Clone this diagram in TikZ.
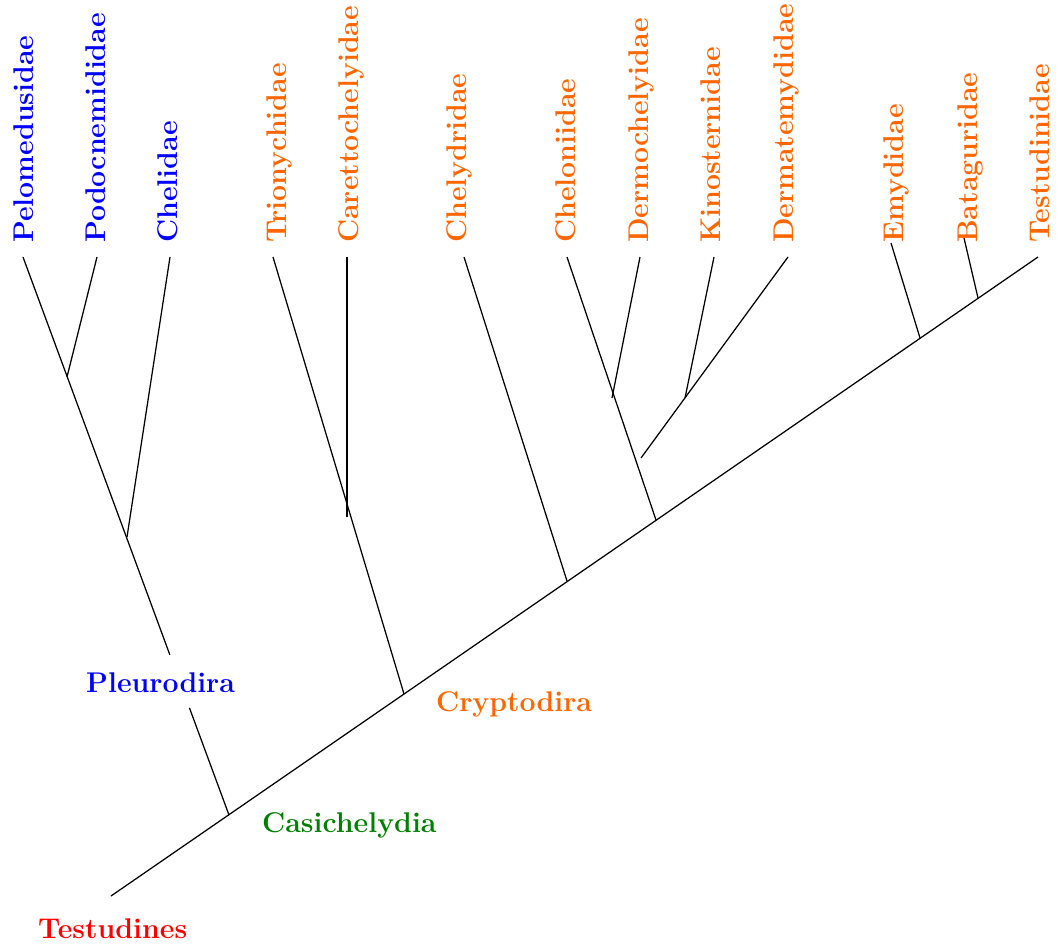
\documentclass[tikz,border=0pt]{standalone}
\usepackage{tikz}
\usetikzlibrary{calc}
\definecolor{pleurocol}{RGB}{0,0,255}
\definecolor{cryptocol}{RGB}{255,102,0}
\definecolor{casicol}{RGB}{0,128,0}
\definecolor{rootcol}{RGB}{255,0,0}
\tikzset{
	taxon/.style={font=\fontsize{28.5}{33}\selectfont\bfseries,inner sep=0pt,anchor=base west},
	family/.style={taxon,rotate=90},
	branch/.style={line width=1.25pt},
}

\begin{document}
\begin{tikzpicture}[x=1pt,y=-1pt]
		\useasboundingbox (0,0) rectangle (1057,946);
		\coordinate (root) at (111,896);
		\coordinate (pelo) at (23,257);
		\coordinate (podo) at (97,257);
		\coordinate (cheli) at (170,257);
		\coordinate (trio) at (273,257);
		\coordinate (care) at (347,257);
		\coordinate (chely) at (464,257);
		\coordinate (chelo) at (567,257);
		\coordinate (dermo) at (640,257);
		\coordinate (kino) at (714,257);
		\coordinate (derma) at (788,257);
		\coordinate (emy) at (891,243);
		\coordinate (bata) at (964,238);
		\coordinate (testu) at (1038,257);
		\coordinate (jpleu) at (229,815);
		\coordinate (jpodo) at (67,377);
		\coordinate (jcheli) at (127,537);
		\coordinate (jcrypt) at (404,694);
		\coordinate (jcare) at (347,517);
		\coordinate (jchely) at (567,581);
		\coordinate (jchelo) at (656,520);
		\coordinate (jdermo) at (612,398);
		\coordinate (jderma) at (641,458);
		\coordinate (jkino) at (685,398);
		\coordinate (jemy) at (920,338);
		\coordinate (jbata) at (978,298);
		\coordinate (pleulo) at ($(jpleu)!0.192!(pelo)$);
		\coordinate (pleuhi) at ($(jpleu)!0.287!(pelo)$);
		\draw[branch] (root) -- (testu);
		\draw[branch] (jpleu) -- (pleulo);
		\draw[branch] (pleuhi) -- (pelo);
		\draw[branch] (jpodo) -- (podo);
		\draw[branch] (jcheli) -- (cheli);
		\draw[branch] (jcrypt) -- (trio);
		\draw[branch] (jcare) -- (care);
		\draw[branch] (jchely) -- (chely);
		\draw[branch] (jchelo) -- (chelo);
		\draw[branch] (jdermo) -- (dermo);
		\draw[branch] (jderma) -- (derma);
		\draw[branch] (jkino) -- (kino);
		\draw[branch] (jemy) -- (emy);
		\draw[branch] (jbata) -- (bata);
		\node[family,pleurocol] (Pelomedusidae) at (33.8,243) {Pelomedusidae};
		\node[family,pleurocol] (Podocnemididae) at (105.4,243) {Podocnemididae};
		\node[family,pleurocol] (Chelidae) at (177.4,243) {Chelidae};
		\node[family,cryptocol] (Trionychidae) at (286.5,243) {Trionychidae};
		\node[family,cryptocol] (Carettochelyidae) at (358.8,243) {Carettochelyidae};
		\node[family,cryptocol] (Chelydridae) at (466.2,243) {Chelydridae};
		\node[family,cryptocol] (Cheloniidae) at (575.4,243) {Cheloniidae};
		\node[family,cryptocol] (Dermochelyidae) at (648.3,243) {Dermochelyidae};
		\node[family,cryptocol] (Kinosternidae) at (720.9,243) {Kinosternidae};
		\node[family,cryptocol] (Dermatemydidae) at (793.9,243) {Dermatemydidae};
		\node[family,cryptocol] (Emydidae) at (903.1,243) {Emydidae};
		\node[family,cryptocol] (Bataguridae) at (977,243) {Bataguridae};
		\node[family,cryptocol] (Testudinidae) at (1049.3,243) {Testudinidae};
		\node[taxon,rootcol] (Testudines) at (38,938) {Testudines};
		\node[taxon,casicol] (Casichelydia) at (262,832) {Casichelydia};
		\node[taxon,pleurocol] (Pleurodira) at (86,692) {Pleurodira};
		\node[taxon,cryptocol] (Cryptodira) at (436,711) {Cryptodira};
	\end{tikzpicture}
\end{document}
